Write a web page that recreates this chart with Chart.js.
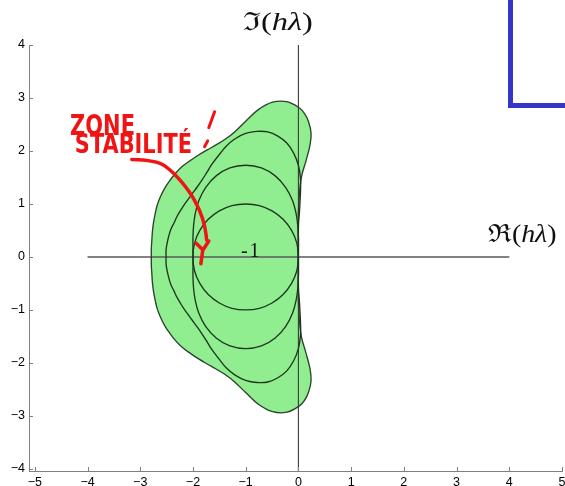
<!DOCTYPE html>
<html><head><meta charset="utf-8">
<script src="https://cdn.jsdelivr.net/npm/chart.js@4/dist/chart.umd.min.js"></script>
<style>
html,body{margin:0;padding:0;background:#fff;overflow:hidden}
#wrap{position:relative;width:565px;height:486px;overflow:hidden}
#frame{position:absolute;left:508px;top:-10px;width:80px;height:113px;border-left:5px solid #3535c8;border-bottom:5px solid #3535c8}
</style></head><body>
<div id="wrap"><canvas id="c" width="565" height="486"></canvas><div id="frame"></div></div>
<script>
// Tick values of the two axes
const xTicks = [-5, -4, -3, -2, -1, 0, 1, 2, 3, 4, 5];
const yTicks = [-4, -3, -2, -1, 0, 1, 2, 3, 4];

// Boundaries |R(hλ)| = 1 of the explicit Runge-Kutta methods of order 1..4, as [Re, Im]
const rk1Edge = [[0,0],[-0.03,0.26],[-0.13,0.5],[-0.29,0.71],[-0.5,0.87],[-0.74,0.97],[-1,1],[-1.26,0.97],[-1.5,0.87],[-1.71,0.71],[-1.87,0.5],[-1.97,0.26],[-2,0],
  [-1.97,-0.26],[-1.87,-0.5],[-1.71,-0.71],[-1.5,-0.87],[-1.26,-0.97],[-1,-1],[-0.74,-0.97],[-0.5,-0.87],[-0.29,-0.71],[-0.13,-0.5],[-0.03,-0.26],[0,0]];

const rk2Edge = [[0,0],[0,0.18],[0,0.36],[-0.01,0.57],[-0.04,0.8],[-0.11,1.06],[-0.24,1.31],[-0.44,1.53],[-0.7,1.68],[-1,1.73],[-1.3,1.68],[-1.56,1.53],[-1.76,1.31],[-1.89,1.06],[-1.96,0.8],[-1.99,0.57],[-2,0.36],[-2,0.18],[-2,0],
  [-2,-0.18],[-2,-0.36],[-1.99,-0.57],[-1.96,-0.8],[-1.89,-1.06],[-1.76,-1.31],[-1.56,-1.53],[-1.3,-1.68],[-1,-1.73],[-0.7,-1.68],[-0.44,-1.53],[-0.24,-1.31],[-0.11,-1.06],[-0.04,-0.8],[-0.01,-0.57],[0,-0.36],[0,-0.18],[0,0]];

const rk3Edge = [[0,0],[0,0.27],[0,0.58],[0.02,0.85],[0.03,1.03],[0.04,1.24],[0.04,1.48],[0,1.73],[-0.09,1.96],[-0.22,2.15],[-0.39,2.28],[-0.58,2.36],[-0.79,2.37],[-1,2.33],[-1.2,2.23],[-1.37,2.09],[-1.51,1.92],[-1.64,1.75],[-1.74,1.59],[-1.83,1.45],[-1.92,1.32],[-2.01,1.2],[-2.09,1.09],[-2.17,0.98],[-2.24,0.87],[-2.31,0.75],[-2.36,0.64],[-2.42,0.52],[-2.46,0.39],[-2.49,0.26],[-2.51,0.13],[-2.51,0],
  [-2.51,-0.13],[-2.49,-0.26],[-2.46,-0.39],[-2.42,-0.52],[-2.36,-0.64],[-2.31,-0.75],[-2.24,-0.87],[-2.17,-0.98],[-2.09,-1.09],[-2.01,-1.2],[-1.92,-1.32],[-1.83,-1.45],[-1.74,-1.59],[-1.64,-1.75],[-1.51,-1.92],[-1.37,-2.09],[-1.2,-2.23],[-1,-2.33],[-0.79,-2.37],[-0.58,-2.36],[-0.39,-2.28],[-0.22,-2.15],[-0.09,-1.96],[0,-1.73],[0.04,-1.48],[0.04,-1.24],[0.03,-1.03],[0.02,-0.85],[0,-0.58],[0,-0.27],[0,0]];

const rk4Edge = [[0,0],[0,0.27],[0,0.58],[0,0.84],[0.01,1.01],[0.02,1.21],[0.06,1.52],[0.14,1.8],[0.22,2.11],[0.24,2.34],[0.19,2.56],[0.12,2.7],[0.02,2.81],[-0.22,2.93],[-0.49,2.92],[-0.76,2.78],[-1,2.56],[-1.21,2.36],[-1.39,2.22],[-1.57,2.11],[-1.73,2.02],[-1.9,1.92],[-2.05,1.82],[-2.2,1.71],[-2.33,1.58],[-2.44,1.44],[-2.54,1.29],[-2.62,1.13],[-2.68,0.97],[-2.72,0.8],[-2.75,0.64],[-2.77,0.47],[-2.78,0.31],[-2.79,0.16],[-2.79,0],
  [-2.79,-0.16],[-2.78,-0.31],[-2.77,-0.47],[-2.75,-0.64],[-2.72,-0.8],[-2.68,-0.97],[-2.62,-1.13],[-2.54,-1.29],[-2.44,-1.44],[-2.33,-1.58],[-2.2,-1.71],[-2.05,-1.82],[-1.9,-1.92],[-1.73,-2.02],[-1.57,-2.11],[-1.39,-2.22],[-1.21,-2.36],[-1,-2.56],[-0.76,-2.78],[-0.49,-2.92],[-0.22,-2.93],[0.02,-2.81],[0.12,-2.7],[0.19,-2.56],[0.24,-2.34],[0.22,-2.11],[0.14,-1.8],[0.06,-1.52],[0.02,-1.21],[0.01,-1.01],[0,-0.84],[0,-0.58],[0,-0.27],[0,0]];

// Coordinate axes drawn inside the plot
const realAxis = [[-4, 0], [4, 0]];
const imagAxis = [[0, 4], [0, -4.04]];

const pts = a => a.map(([x, y]) => ({x, y}));
const minus = v => (v < 0 ? '\u2212' + Math.abs(v) : String(v));
const curveColor = '#1f361f';

function curve(data, order, extra) {
  return Object.assign({data: pts(data), borderColor: curveColor, borderWidth: 1.35,
    pointRadius: 0, tension: 0.4, fill: false, order}, extra || {});
}

// Inward tick marks, axis captions and the handwritten note
const decorations = {
  id: 'decorations',
  afterDraw(chart) {
    const {ctx, chartArea: area, scales: {x, y}} = chart;
    const px = v => x.getPixelForValue(v), py = v => y.getPixelForValue(v);
    ctx.save();
    ctx.strokeStyle = '#7f7f7f';
    ctx.lineWidth = 1;
    ctx.beginPath();
    for (const t of x.ticks) {
      const p = Math.round(px(t.value)) + 0.5;
      ctx.moveTo(p, area.bottom); ctx.lineTo(p, area.bottom - 4);
    }
    for (const t of y.ticks) {
      const q = Math.round(py(t.value)) + 0.5;
      ctx.moveTo(area.left, q); ctx.lineTo(area.left + 4, q);
    }
    ctx.stroke();

    // math captions, stretched to the width of the TeX rendering
    const serif = '"Liberation Serif", "DejaVu Serif", serif';
    function caption(lead, cx, by, size, width) {
      const parts = [[lead + '(', 'normal'], ['h\u03bb', 'italic'], [')', 'normal']];
      let w = 0;
      for (const p of parts) { ctx.font = p[1] + ' ' + size + 'px ' + serif; p.push(ctx.measureText(p[0]).width); w += p[2]; }
      ctx.save();
      ctx.translate(px(cx) - width / 2, py(by));
      ctx.scale(width / w, 1);
      ctx.fillStyle = '#111';
      ctx.textBaseline = 'alphabetic';
      ctx.textAlign = 'left';
      let cur = 0;
      for (const p of parts) { ctx.font = p[1] + ' ' + size + 'px ' + serif; ctx.fillText(p[0], cur, 0); cur += p[2]; }
      ctx.restore();
    }
    caption('\u2111', -0.39, 4.28, 25, 70);
    caption('\u211c', 4.25, 0.29, 25, 68);

    ctx.font = '20px ' + serif;
    ctx.fillStyle = '#111';
    ctx.letterSpacing = '2px';
    ctx.fillText('-1', px(-1.09), py(0));
    ctx.letterSpacing = '0px';

    // handwritten note
    const red = '#f01414';
    ctx.fillStyle = red;
    function script(text, x1, x2, by, size) {
      ctx.save();
      ctx.font = 'bold ' + size + 'px "DejaVu Sans", sans-serif';
      const w = ctx.measureText(text).width;
      ctx.translate(px(x1), py(by));
      ctx.scale((px(x2) - px(x1)) / w, 1);
      ctx.fillText(text, 0, 0);
      ctx.restore();
    }
    script('ZONE', -4.33, -3.10, 2.30, 29);
    script('STABILIT\u00c9', -4.24, -2.02, 1.96, 27);

    ctx.strokeStyle = red;
    ctx.lineCap = 'round';
    ctx.lineJoin = 'round';
    // exclamation mark, slanted
    ctx.lineWidth = 3;
    ctx.beginPath();
    ctx.moveTo(px(-1.59), py(2.74)); ctx.lineTo(px(-1.70), py(2.44));
    ctx.moveTo(px(-1.72), py(2.19)); ctx.lineTo(px(-1.78), py(2.08));
    ctx.stroke();

    const arrow = [[-3.16, 1.84], [-2.69, 1.83], [-2.38, 1.61], [-2.06, 1.23], [-1.87, 0.89], [-1.77, 0.57], [-1.74, 0.32]];
    ctx.lineWidth = 3.5;
    ctx.beginPath();
    ctx.moveTo(px(arrow[0][0]), py(arrow[0][1]));
    for (let i = 1; i < arrow.length - 1; i++) {
      const mx = (px(arrow[i][0]) + px(arrow[i + 1][0])) / 2, my = (py(arrow[i][1]) + py(arrow[i + 1][1])) / 2;
      ctx.quadraticCurveTo(px(arrow[i][0]), py(arrow[i][1]), mx, my);
    }
    const last = arrow[arrow.length - 1];
    ctx.lineTo(px(last[0]), py(last[1]));
    ctx.stroke();
    ctx.beginPath();
    ctx.moveTo(px(-1.94), py(0.26)); ctx.lineTo(px(-1.81), py(0.13)); ctx.lineTo(px(-1.70), py(0.30));
    ctx.moveTo(px(-1.81), py(0.16)); ctx.lineTo(px(-1.85), py(-0.13));
    ctx.stroke();
    ctx.restore();
  }
};

new Chart(document.getElementById('c'), {
  type: 'line',
  data: {
    datasets: [
      curve(realAxis, 9, {borderColor: '#5a5a5a', borderWidth: 1.6, tension: 0}),
      curve(imagAxis, 8, {borderColor: '#3a3a3a', borderWidth: 1.1, tension: 0}),
      curve(rk4Edge, 5, {fill: 'shape', backgroundColor: '#90ee90', borderColor: '#2c422c'}),
      curve(rk3Edge, 4),
      curve(rk2Edge, 3),
      curve(rk1Edge, 2)
    ]
  },
  options: {
    responsive: false,
    animation: false,
    events: [],
    layout: {padding: {top: 45, right: 3, left: 0, bottom: 0}},
    plugins: {legend: {display: false}, tooltip: {enabled: false}, filler: {drawTime: 'beforeDatasetsDraw'}},
    scales: {
      x: {
        type: 'linear', min: -5.11, max: 5,
        afterBuildTicks: s => { s.ticks = xTicks.map(v => ({value: v})); },
        afterFit: s => { s.height = 15; s.paddingLeft = 0; s.paddingRight = 0; },
        grid: {display: false, drawTicks: false},
        border: {display: true, color: '#808080', width: 1},
        ticks: {padding: 4, color: '#000', font: {family: 'Liberation Sans', size: 12.5}, maxRotation: 0, autoSkip: false, callback: v => minus(v)}
      },
      y: {
        type: 'linear', min: -4.04, max: 4,
        afterBuildTicks: s => { s.ticks = yTicks.map(v => ({value: v})); },
        afterFit: s => { s.width = 29; s.paddingTop = 0; s.paddingBottom = 0; },
        grid: {display: false, drawTicks: false},
        border: {display: true, color: '#808080', width: 1},
        ticks: {padding: 4, color: '#000', font: {family: 'Liberation Sans', size: 12.5}, autoSkip: false, callback: v => minus(v)}
      }
    }
  },
  plugins: [decorations]
});
</script>
</body></html>
